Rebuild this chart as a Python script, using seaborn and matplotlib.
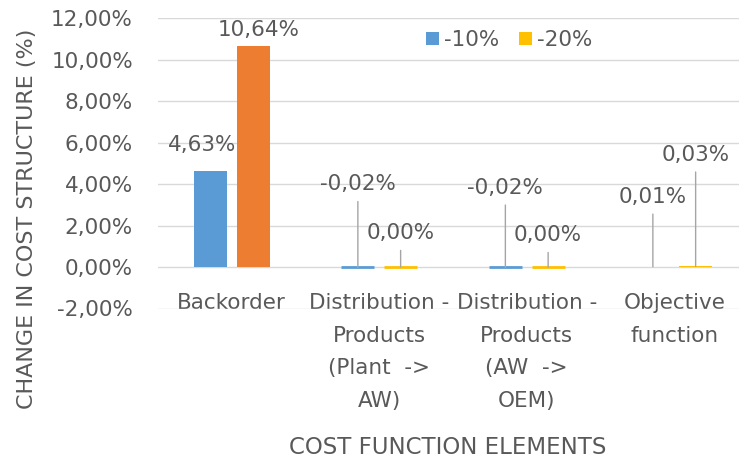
import pandas as pd
import matplotlib.pyplot as plt
import seaborn as sns
from matplotlib.ticker import FuncFormatter

# Chart data
elements = ["Backorder",
            "Distribution - Products (Plant -> AW)",
            "Distribution - Products (AW -> OEM)",
            "Objective function"]
tick_labels = ["Backorder",
               "Distribution -\nProducts\n(Plant  ->\nAW)",
               "Distribution -\nProducts\n(AW  ->\nOEM)",
               "Objective\nfunction"]
scenarios = ["-10%", "-20%"]
change_10 = [4.63, -0.02, -0.02, 0.01]
change_20 = [10.64, 0.00, 0.00, 0.03]
y_ticks = [-2, 0, 2, 4, 6, 8, 10, 12]

# Styles
BLUE = "#5B9BD5"
YELLOW = "#FFC000"
ORANGE = "#ED7D31"
GREY = "#595959"
GRID = "#D9D9D9"
FS = 15.5

# label offsets (points) relative to bar end
offsets_10 = [(-6, 19), (0, 60), (0, 57.5), (0, 50.5)]
offsets_20 = [(4, 12), (0, 24.5), (0, 23), (0, 80.5)]
leader = [False, True, True, True]

df = pd.DataFrame({
    "element": elements * 2,
    "scenario": [scenarios[0]] * 4 + [scenarios[1]] * 4,
    "value": change_10 + change_20,
})

sns.set_theme(style="white")
plt.rcParams["font.family"] = ["DejaVu Sans"]

fig = plt.figure(figsize=(7.39, 4.61), dpi=100)
ax = fig.add_axes([158 / 739, 1 - 308.5 / 461, 590 / 739, 290.5 / 461])

sns.barplot(data=df, x="element", y="value", hue="scenario",
            order=elements, hue_order=scenarios,
            palette=[BLUE, YELLOW], saturation=1,
            width=0.58, gap=0.23, linewidth=0, ax=ax, zorder=3)

# backorder -20% bar is orange in the original
ax.containers[1][0].set_facecolor(ORANGE)

# thin visible strips for near-zero distribution bars
for cont in ax.containers:
    for i, p in enumerate(cont):
        if elements[i].startswith("Distribution"):
            p.set_edgecolor(p.get_facecolor())
            p.set_linewidth(2)
        else:
            p.set_linewidth(0)

# data labels
def fmt(v):
    return f"{v:.2f}%".replace(".", ",")

for cont, vals, offs in zip(ax.containers, [change_10, change_20], [offsets_10, offsets_20]):
    for i, p in enumerate(cont):
        x = p.get_x() + p.get_width() / 2
        v = vals[i]
        arrow = None
        if leader[i]:
            arrow = dict(arrowstyle="-", color="#A5A5A5", lw=1,
                         shrinkA=3, shrinkB=0, relpos=(0.5, 0))
        ax.annotate(fmt(v), xy=(x, v), xytext=offs[i], textcoords="offset points",
                    ha="center", va="center", fontsize=FS, color=GREY,
                    arrowprops=arrow, zorder=4)

ax.set_xlim(-0.5, 3.5)
ax.set_ylim(-2, 12)
ax.set_yticks(y_ticks)
ax.yaxis.set_major_formatter(FuncFormatter(lambda v, _: f"{v:.2f}%".replace(".", ",")))
ax.set_xticks(range(len(elements)))
ax.set_xticklabels(tick_labels, linespacing=1.78)

ax.grid(axis="y", color=GRID, lw=1)
ax.set_axisbelow(True)
for s in ax.spines.values():
    s.set_visible(False)
ax.tick_params(axis="both", length=0, labelsize=FS, labelcolor=GREY)
ax.tick_params(axis="x", pad=-11)
ax.tick_params(axis="y", pad=18)

ax.set_ylabel("CHANGE IN COST STRUCTURE (%)", fontsize=16, color=GREY)
ax.yaxis.set_label_coords(-0.205, 0.31)
ax.set_xlabel("COST FUNCTION ELEMENTS", fontsize=16.5, color=GREY)
ax.xaxis.set_label_coords(0.491, -0.438)

sns.move_legend(ax, "center", bbox_to_anchor=(0.595, 0.924), ncol=2,
                frameon=False, title=None, fontsize=FS, labelcolor=GREY,
                handlelength=0.6, handleheight=0.6, handletextpad=0.25,
                columnspacing=0.9)

fig.savefig("out.png", dpi=100)
